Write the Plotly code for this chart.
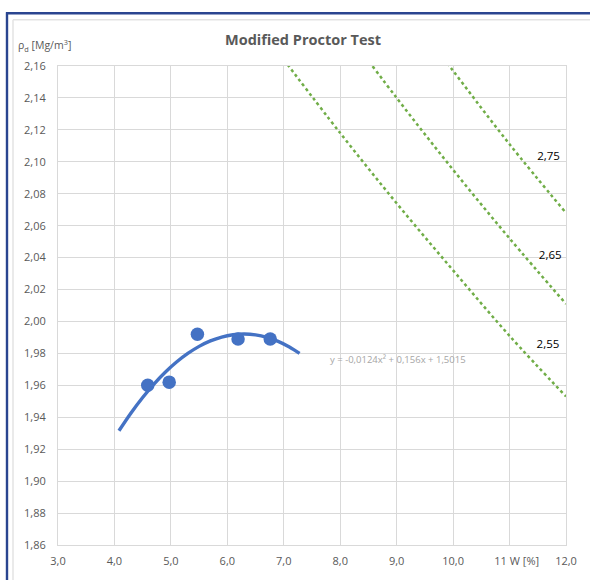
import plotly.graph_objects as go

# ---- data ----
w_meas = [4.59, 4.97, 5.47, 6.19, 6.76]
rho_meas = [1.960, 1.962, 1.992, 1.989, 1.989]

# trendline (polynomial shown on chart): y = a x^2 + b x + c
trend_coef = [-0.0124, 0.156, 1.5015]
trend_x = [4.08, 4.3, 4.5, 4.7, 4.9, 5.1, 5.3, 5.5, 5.7, 5.9, 6.1, 6.3, 6.5, 6.7, 6.9, 7.1, 7.28]

# zero-air-void lines (w %, rho_d)
zav_w_255 = [7.0, 8.0, 9.0, 10.0, 11.0, 12.0]
zav_r_255 = [2.164, 2.118, 2.074, 2.032, 1.991, 1.953]
zav_w_265 = [8.0, 9.0, 10.0, 11.0, 12.0]
zav_r_265 = [2.187, 2.140, 2.095, 2.052, 2.011]
zav_w_275 = [9.0, 10.0, 11.0, 12.0]
zav_r_275 = [2.204, 2.157, 2.111, 2.068]
zav_labels = ["2,55", "2,65", "2,75"]
zav_label_x = [11.68, 11.72, 11.69]
zav_label_y = [1.985, 2.041, 2.103]

x_tickvals = [3, 4, 5, 6, 7, 8, 9, 10, 11, 12]
x_ticktext = ["3,0", "4,0", "5,0", "6,0", "7,0", "8,0", "9,0", "10,0",
              "\u00a0" * 5 + "11 W [%]", "12,0"]
y_tickvals = [1.86, 1.88, 1.90, 1.92, 1.94, 1.96, 1.98, 2.00, 2.02, 2.04, 2.06, 2.08, 2.10, 2.12, 2.14, 2.16]
y_ticktext = [f"{v:.2f}".replace(".", ",") for v in y_tickvals]

trend_y = [trend_coef[0] * x * x + trend_coef[1] * x + trend_coef[2] for x in trend_x]

BLUE = "#4472C4"
GREEN = "#70AD47"
GRID = "#d9d9d9"
TXT = "#595959"
FONT = "Open Sans"

W, H = 590, 580
PL, PR, PT, PB = 58, 566, 66, 547  # plot area in page pixels


def px_x(p):
    return (p - PL) / (PR - PL)


def px_y(p):
    return (PB - p) / (PB - PT)


fig = go.Figure()
for wx, ry in [(zav_w_255, zav_r_255), (zav_w_265, zav_r_265), (zav_w_275, zav_r_275)]:
    fig.add_trace(go.Scatter(x=wx, y=ry, mode="lines",
                             line=dict(color=GREEN, width=2.5, dash="dot", shape="spline"),
                             hoverinfo="skip", showlegend=False))

fig.add_trace(go.Scatter(x=trend_x, y=trend_y, mode="lines",
                         line=dict(color=BLUE, width=3.4, shape="spline"),
                         showlegend=False))
fig.add_trace(go.Scatter(x=w_meas, y=rho_meas, mode="markers",
                         marker=dict(color=BLUE, size=13.5), showlegend=False))

fig.add_trace(go.Scatter(x=zav_label_x, y=zav_label_y, mode="text", text=zav_labels,
                         textfont=dict(family=FONT, size=11.5, color="#000000"),
                         textposition="middle center", showlegend=False, hoverinfo="skip"))

fig.add_annotation(x=9.02, y=1.976, xref="x", yref="y", showarrow=False,
                   text="y = -0,0124x² + 0,156x + 1,5015",
                   font=dict(family=FONT, size=9.5, color="#a6a6a6"))

fig.update_layout(
    width=W, height=H,
    margin=dict(l=PL, r=W - PR, t=PT, b=H - PB),
    paper_bgcolor="white", plot_bgcolor="white",
    title=dict(text="<b>Modified Proctor Test</b>", x=px_x(303), xref="paper", xanchor="center",
               y=1 - 40 / H, yanchor="middle",
               font=dict(family=FONT, size=14.5, color=TXT)),
    xaxis=dict(range=[3, 12], tickvals=x_tickvals, ticktext=x_ticktext,
               showgrid=True, gridcolor=GRID, gridwidth=1,
               showline=True, linecolor=GRID, mirror=True, zeroline=False,
               ticks="", ticklabelstandoff=6,
               tickfont=dict(family=FONT, size=11, color=TXT)),
    yaxis=dict(range=[1.86, 2.16], tickvals=y_tickvals, ticktext=y_ticktext,
               showgrid=True, gridcolor=GRID, gridwidth=1,
               showline=True, linecolor=GRID, mirror=True, zeroline=False,
               ticks="", ticklabelstandoff=9,
               tickfont=dict(family=FONT, size=11, color=TXT)),
)

# y-axis title at top-left
fig.add_annotation(xref="paper", yref="paper", x=px_x(16), y=px_y(45),
                   xanchor="left", yanchor="middle", showarrow=False,
                   text="ρ<sub>d</sub> [Mg/m<sup>3</sup>]",
                   font=dict(family=FONT, size=10.5, color=TXT))

# chart frame: dark blue outer border and light grey inner border
fig.add_shape(type="line", xref="paper", yref="paper", x0=px_x(13), x1=px_x(600),
              y0=px_y(19.5), y1=px_y(19.5), line=dict(color="#e3e3e3", width=1.5))
fig.add_shape(type="line", xref="paper", yref="paper", x0=px_x(13), x1=px_x(13),
              y0=px_y(19.5), y1=px_y(600), line=dict(color="#e3e3e3", width=1.5))
fig.add_shape(type="line", xref="paper", yref="paper", x0=px_x(6), x1=px_x(600),
              y0=px_y(13), y1=px_y(13), line=dict(color="#2A4590", width=2.4))
fig.add_shape(type="line", xref="paper", yref="paper", x0=px_x(7), x1=px_x(7),
              y0=px_y(12), y1=px_y(600), line=dict(color="#2A4590", width=2.4))

fig.write_html("out.html",
               config={"displayModeBar": False},
               post_script="document.body.style.margin='0';document.body.style.overflow='hidden';")
